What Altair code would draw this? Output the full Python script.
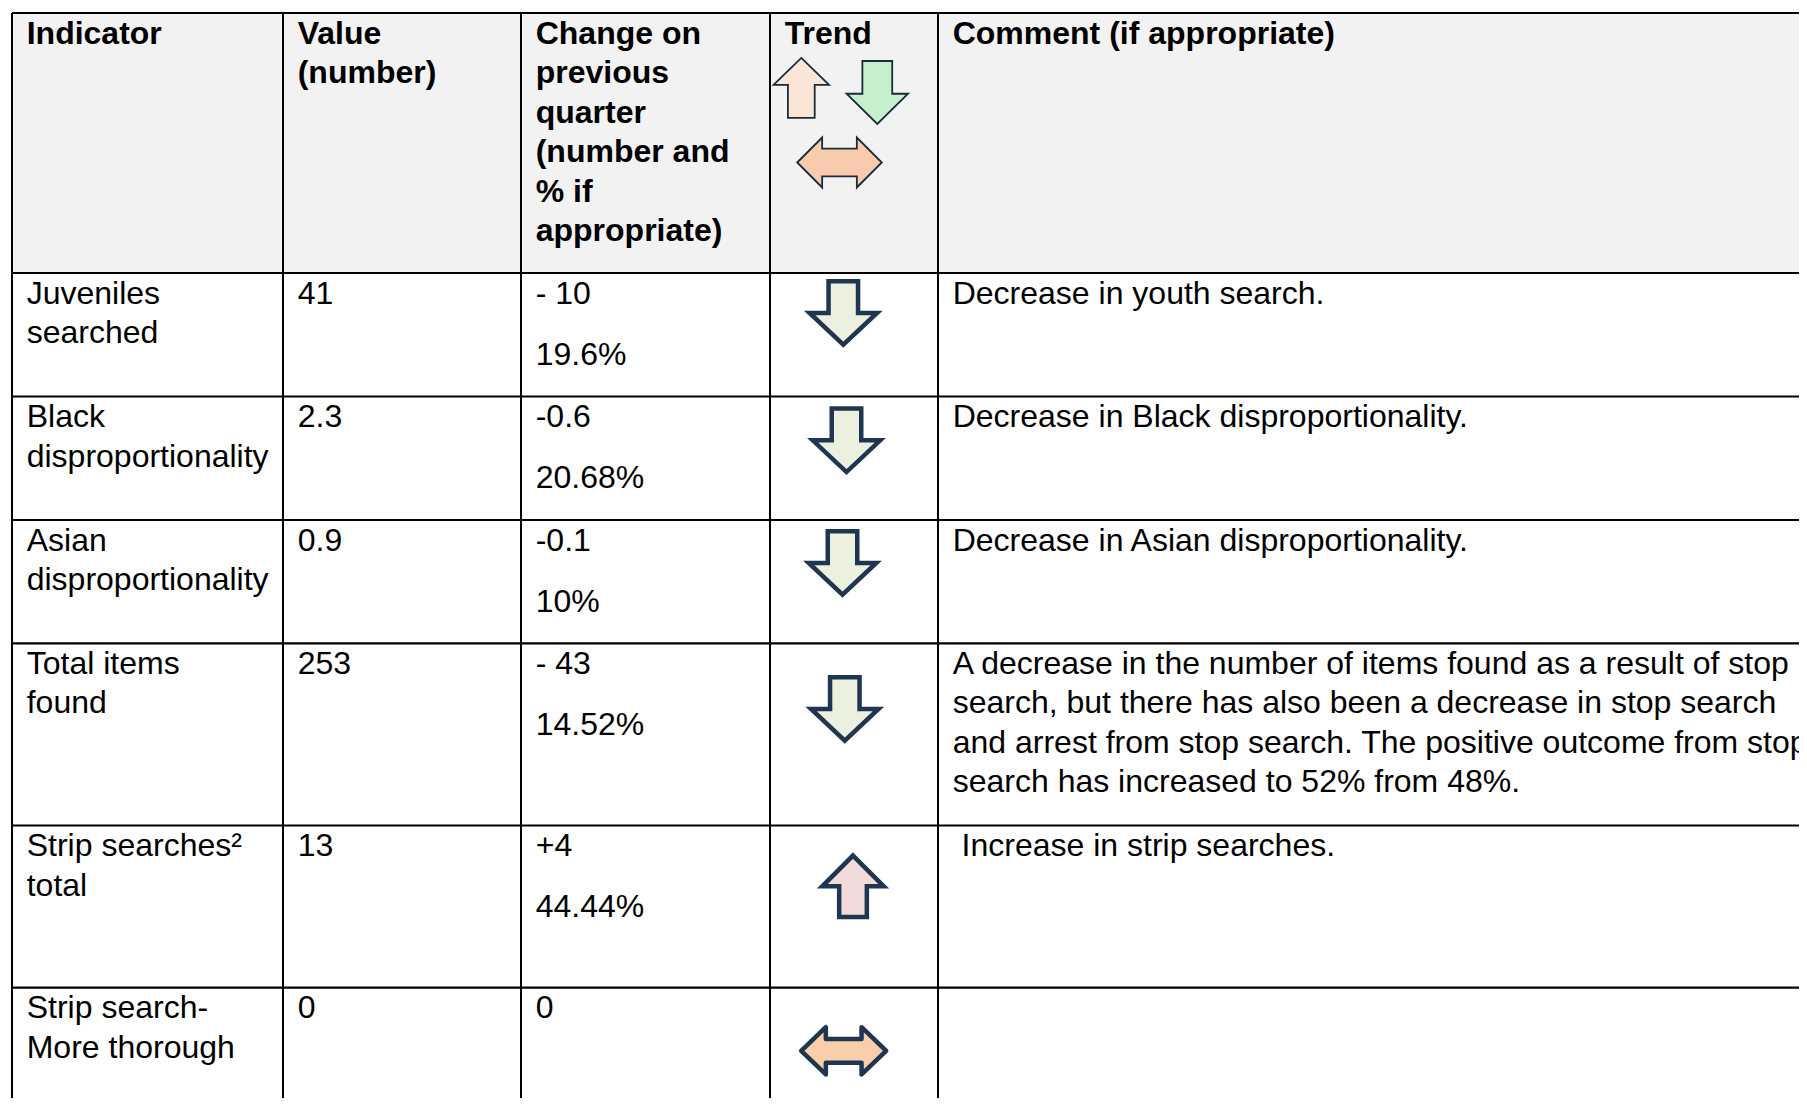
import altair as alt
import pandas as pd

# ---------------- table content ----------------
HEADERS = [
    ["Indicator"],
    ["Value", "(number)"],
    ["Change on", "previous", "quarter", "(number and", "% if", "appropriate)"],
    ["Trend"],
    ["Comment (if appropriate)"],
]
INDICATORS = [
    ["Juveniles", "searched"],
    ["Black", "disproportionality"],
    ["Asian", "disproportionality"],
    ["Total items", "found"],
    ["Strip searches\u00b2", "total"],
    ["Strip search-", "More thorough"],
]
VALUES = ["41", "2.3", "0.9", "253", "13", "0"]
CHANGES = ["- 10", "-0.6", "-0.1", "- 43", "+4", "0"]
CHANGE_PCT = ["19.6%", "20.68%", "10%", "14.52%", "44.44%", ""]
TRENDS = ["down", "down", "down", "down", "up", "flat"]
COMMENTS = [
    ["Decrease in youth search."],
    ["Decrease in Black disproportionality."],
    ["Decrease in Asian disproportionality."],
    ["A decrease in the number of items found as a result of stop",
     "search, but there has also been a decrease in stop search",
     "and arrest from stop search. The positive outcome from stop",
     "search has increased to 52% from 48%."],
    [" Increase in strip searches."],
    [],
]
LEGEND_TRENDS = ["up", "down", "flat"]

# ---------------- layout (page pixel units) ----------------
X0, X1 = 8, 1799
Y0, Y1 = 8, 1098
W, H = X1 - X0, Y1 - Y0
COL_EDGES = [12, 283, 521, 770, 938]
ROW_EDGES = [13, 273, 396.5, 520, 643.3, 825.5, 987.6]
PAD_X = 14.7
FIRST_BASE = 30.5
LINE_H = 39.5
PCT_GAP = 61
TREND_CX = (COL_EDGES[3] + COL_EDGES[4]) / 2
ARROW_DX = [-10.7, -7.5, -11.5, -9.2, -1, -10.3]
ARROW_DY = [40, 43.8, 43, 65.7, 60.8, 63.2]
LEGEND_OFFSETS = {"up": (-52.7, 74.9), "down": (23.3, 79.5), "flat": (-14.5, 149.5)}

FONT = "Liberation Sans"
FS = 32
SPACE_W = 0.278 * FS

# arrow glyphs (normalised symbol paths) and styles
BODY_SHAPES = {
    "down": dict(path="M -0.437 -0.94 L 0.437 -0.94 L 0.437 0 L 1 0 L 0 0.94 L -1 0 L -0.437 0 Z",
                 size=4556, fill="#EBF1DE", join="miter"),
    "up": dict(path="M 0 -1 L 1 0 L 0.45 0 L 0.45 1 L -0.45 1 L -0.45 0 L -1 0 Z",
               size=3782, fill="#F2DCDB", join="miter"),
    "flat": dict(path="M -1 0 L -0.42 -0.555 L -0.42 -0.28 L 0.42 -0.28 L 0.42 -0.555 L 1 0 "
                      "L 0.42 0.555 L 0.42 0.28 L -0.42 0.28 L -0.42 0.555 Z",
                 size=7225, fill="#F9CFA9", join="round"),
}
LEGEND_SHAPES = {
    "up": dict(path="M 0 -1.08 L 1 -0.11 L 0.483 -0.11 L 0.483 1.08 L -0.483 1.08 L -0.483 -0.11 L -1 -0.11 Z",
               size=3080, fill="#FBE5D6"),
    "down": dict(path="M -0.485 -1.024 L 0.485 -1.024 L 0.485 0.04 L 1 0.04 L 0 1.024 L -1 0.04 L -0.485 0.04 Z",
                 size=3782, fill="#C6EFCE"),
    "flat": dict(path="M -1 0 L -0.41 -0.59 L -0.41 -0.33 L 0.41 -0.33 L 0.41 -0.59 L 1 0 "
                      "L 0.41 0.59 L 0.41 0.33 L -0.41 0.33 L -0.41 0.59 Z",
                 size=7157, fill="#F8CBAD"),
}
BODY_STROKE = "#1F3550"
LEGEND_STROKE = "#1A2B3A"

# ---------------- build records ----------------
XS = alt.Scale(domain=[X0, X1], nice=False, zero=False)
YS = alt.Scale(domain=[Y0, Y1], nice=False, zero=False, reverse=True)
xe = alt.X("x:Q", scale=XS, axis=None)
ye = alt.Y("y:Q", scale=YS, axis=None)


def line_rec(x, y, t):
    n = len(t) - len(t.lstrip(" "))
    return dict(x=x + n * SPACE_W, y=y, text=t.lstrip(" "))


header_txt = []
for ci, lines in enumerate(HEADERS):
    for li, t in enumerate(lines):
        header_txt.append(line_rec(COL_EDGES[ci] + PAD_X, ROW_EDGES[0] + FIRST_BASE + li * LINE_H, t))

body_txt = []
for ri in range(len(INDICATORS)):
    top = ROW_EDGES[ri + 1]
    base = top + FIRST_BASE
    for li, t in enumerate(INDICATORS[ri]):
        body_txt.append(line_rec(COL_EDGES[0] + PAD_X, base + li * LINE_H, t))
    body_txt.append(line_rec(COL_EDGES[1] + PAD_X, base, VALUES[ri]))
    body_txt.append(line_rec(COL_EDGES[2] + PAD_X, base, CHANGES[ri]))
    if CHANGE_PCT[ri]:
        body_txt.append(line_rec(COL_EDGES[2] + PAD_X, base + PCT_GAP, CHANGE_PCT[ri]))
    for li, t in enumerate(COMMENTS[ri]):
        body_txt.append(line_rec(COL_EDGES[4] + PAD_X, base + li * LINE_H, t))

hlines = [dict(x=COL_EDGES[0], x2=X1, y=yv, y2=yv) for yv in ROW_EDGES]
vlines = [dict(x=xv, x2=xv, y=ROW_EDGES[0], y2=Y1) for xv in COL_EDGES]
header_bg = [dict(x=COL_EDGES[0], x2=X1, y=ROW_EDGES[0], y2=ROW_EDGES[1])]

layers = []
layers.append(
    alt.Chart(pd.DataFrame(header_bg)).mark_rect(fill="#F2F2F2", strokeWidth=0).encode(
        x=xe, x2="x2:Q", y=ye, y2="y2:Q")
)
layers.append(
    alt.Chart(pd.DataFrame(hlines)).mark_rule(color="#000000", strokeWidth=2.2).encode(
        x=xe, x2="x2:Q", y=ye, y2="y2:Q")
)
layers.append(
    alt.Chart(pd.DataFrame(vlines)).mark_rule(color="#000000", strokeWidth=2.0).encode(
        x=xe, x2="x2:Q", y=ye, y2="y2:Q")
)
layers.append(
    alt.Chart(pd.DataFrame(header_txt)).mark_text(
        align="left", baseline="alphabetic", font=FONT, fontSize=FS, fontWeight="bold",
        color="#000000").encode(x=xe, y=ye, text="text:N")
)
layers.append(
    alt.Chart(pd.DataFrame(body_txt)).mark_text(
        align="left", baseline="alphabetic", font=FONT, fontSize=FS, fontWeight="normal",
        color="#000000").encode(x=xe, y=ye, text="text:N")
)

# legend arrows in the header "Trend" cell
for k in LEGEND_TRENDS:
    st = LEGEND_SHAPES[k]
    dx, dy = LEGEND_OFFSETS[k]
    df = pd.DataFrame([dict(x=TREND_CX + dx, y=ROW_EDGES[0] + dy, trend=k)])
    layers.append(
        alt.Chart(df).mark_point(shape=st["path"], size=st["size"], filled=True,
                                 fill=st["fill"], stroke=LEGEND_STROKE, strokeWidth=1.8,
                                 opacity=1, fillOpacity=1, strokeOpacity=1,
                                 strokeJoin="miter").encode(x=xe, y=ye)
    )

# trend arrows per row
for k, st in BODY_SHAPES.items():
    recs = []
    for ri, tr in enumerate(TRENDS):
        if tr == k:
            recs.append(dict(x=TREND_CX + ARROW_DX[ri], y=ROW_EDGES[ri + 1] + ARROW_DY[ri], trend=tr))
    if not recs:
        continue
    layers.append(
        alt.Chart(pd.DataFrame(recs)).mark_point(shape=st["path"], size=st["size"], filled=True,
                                                 fill=st["fill"], stroke=BODY_STROKE, strokeWidth=4.5,
                                                 opacity=1, fillOpacity=1, strokeOpacity=1,
                                                 strokeJoin=st["join"]).encode(x=xe, y=ye)
    )

chart = alt.layer(*layers).properties(
    width=W, height=H, padding=0, autosize="none", background="#FFFFFF"
).configure_view(stroke=None)

chart.save("out.html", embed_options={"renderer": "svg", "actions": False})
